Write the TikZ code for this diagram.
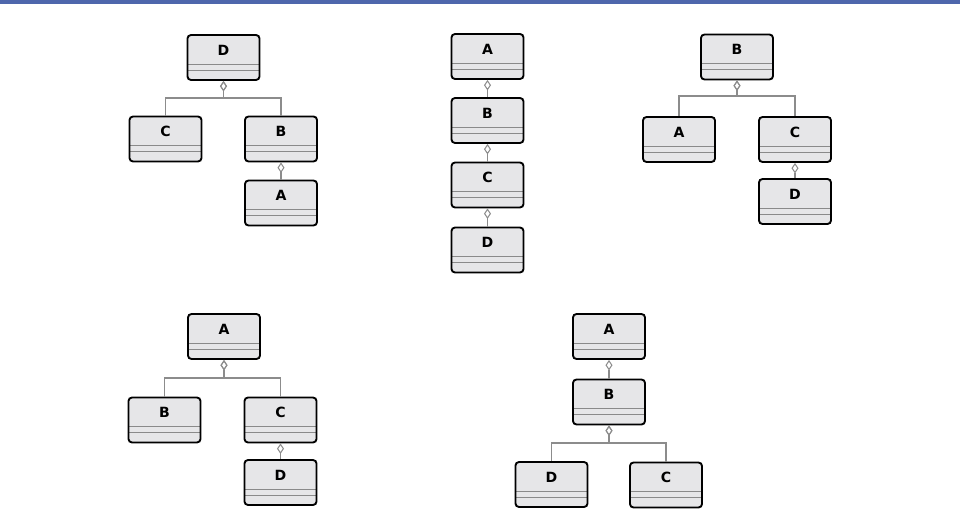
\documentclass[tikz,border=0pt]{standalone}
\usepackage{fontspec}
\setmainfont{DejaVu Sans}
\usetikzlibrary{arrows.meta}
\definecolor{banner}{HTML}{4E67AC}
\definecolor{boxfill}{HTML}{E6E6E8}
\definecolor{compline}{HTML}{8A8A8A}
\definecolor{linkgray}{HTML}{8C8C8C}
\tikzset{
  classbox/.style={draw=black, line width=1.6pt, rounded corners=3pt, fill=boxfill,
    minimum width=61.5pt, minimum height=38.4pt, inner sep=0pt,
    text height=8.75pt, text depth=12.6pt, font=\fontsize{12}{14}\selectfont\bfseries,
    path picture={
      \draw[compline, line width=0.8pt]
        ([yshift=13.6pt]path picture bounding box.south west) -- ([yshift=13.6pt]path picture bounding box.south east)
        ([yshift=8.5pt]path picture bounding box.south west) -- ([yshift=8.5pt]path picture bounding box.south east);
    }},
  aggr/.style={{Diamond[open, length=9pt, width=6pt]}-, line width=0.9pt, draw=linkgray}
}
\begin{document}
\begin{tikzpicture}[x=0.03cm, y=-0.03cm]
  \useasboundingbox (0,0) rectangle (960,514);
  \fill[banner] (0,0) rectangle (960,4.5);
  % D with C and B, A under B
  \node[classbox] (d1) at (223.5,57.5) {D};
  \node[classbox] (c1) at (165.5,139) {C};
  \node[classbox] (b1) at (281,139) {B};
  \node[classbox] (a1) at (281,203) {A};
  \coordinate (j1) at (223.5,98);
  \draw[aggr] (d1.south) -- (j1) -| (c1.north);
  \draw[aggr] (d1.south) -- (j1) -| (b1.north);
  \draw[aggr] (b1.south) -- (a1.north);
  % chain A-B-C-D
  \node[classbox] (a2) at (487.5,56.5) {A};
  \node[classbox] (b2) at (487.5,120.5) {B};
  \node[classbox] (c2) at (487.5,185) {C};
  \node[classbox] (d2) at (487.5,250) {D};
  \draw[aggr] (a2.south) -- (b2.north);
  \draw[aggr] (b2.south) -- (c2.north);
  \draw[aggr] (c2.south) -- (d2.north);
  % B with A and C, D under C
  \node[classbox] (b3) at (737,57) {B};
  \node[classbox] (a3) at (679,139.5) {A};
  \node[classbox] (c3) at (795,139.5) {C};
  \node[classbox] (d3) at (795,201.5) {D};
  \coordinate (j3) at (737,96);
  \draw[aggr] (b3.south) -- (j3) -| (a3.north);
  \draw[aggr] (b3.south) -- (j3) -| (c3.north);
  \draw[aggr] (c3.south) -- (d3.north);
  % A with B and C, D under C
  \node[classbox] (a4) at (224,336.5) {A};
  \node[classbox] (b4) at (164.5,420) {B};
  \node[classbox] (c4) at (280.5,420) {C};
  \node[classbox] (d4) at (280.5,482.5) {D};
  \coordinate (j4) at (224,378);
  \draw[aggr] (a4.south) -- (j4) -| (b4.north);
  \draw[aggr] (a4.south) -- (j4) -| (c4.north);
  \draw[aggr] (c4.south) -- (d4.north);
  % A over B, B with D and C
  \node[classbox] (a5) at (609,336.5) {A};
  \node[classbox] (b5) at (609,402) {B};
  \node[classbox] (d5) at (551.5,484.5) {D};
  \node[classbox] (c5) at (666,485) {C};
  \coordinate (j5) at (609,443);
  \draw[aggr] (a5.south) -- (b5.north);
  \draw[aggr] (b5.south) -- (j5) -| (d5.north);
  \draw[aggr] (b5.south) -- (j5) -| (c5.north);
\end{tikzpicture}
\end{document}
